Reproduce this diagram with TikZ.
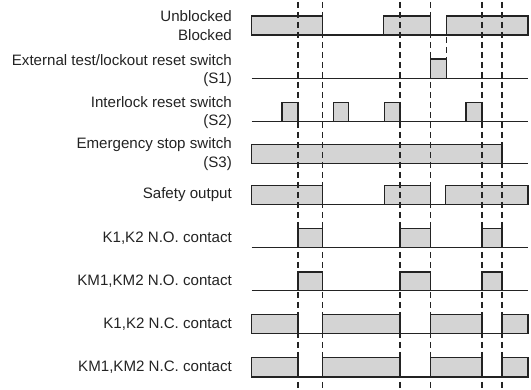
\documentclass[tikz,border=0pt]{standalone}
\usepackage{fontspec}
\setmainfont{Liberation Sans}
\usepackage{tikz}
\usepackage{xcolor}
\usetikzlibrary{positioning}

\definecolor{boxgray}{RGB}{212,212,212}
\definecolor{inkgray}{RGB}{35,35,35}

\tikzset{
    wave/.style={draw=inkgray, line width=1.3pt},
    hilo/.style={wave, fill=boxgray},
    tmark/.style={draw=inkgray, line width=1.1pt, dash pattern=on 6pt off 4pt},
    sig/.style={anchor=east, inner sep=0pt, text=inkgray, font=\fontsize{15.1}{16}\selectfont}
}

\begin{document}
\begin{tikzpicture}[x=1pt, y=-1pt]
    \useasboundingbox (0,0) rectangle (531,390);

    % labels
    \node[sig] (unbl) at (232, 16) {Unblocked};
    \node[sig] (bl) at (232, 35) {Blocked};
    \node[sig] (s1a) at (232, 60) {External test/lockout reset switch};
    \node[sig] (s1b) at (232, 79.5) {(S1)};
    \node[sig] (s2a) at (232, 102.5) {Interlock reset switch};
    \node[sig] (s2b) at (232, 122) {(S2)};
    \node[sig] (s3a) at (232, 145) {Emergency stop switch};
    \node[sig] (s3b) at (232, 164) {(S3)};
    \node[sig] (safe) at (232, 195) {Safety output};
    \node[sig] (kno) at (232, 238) {K1,K2 N.O. contact};
    \node[sig] (kmno) at (232, 281) {KM1,KM2 N.O. contact};
    \node[sig] (knc) at (232, 324) {K1,K2 N.C. contact};
    \node[sig] (kmnc) at (232, 367) {KM1,KM2 N.C. contact};

    % unblocked / blocked
    \draw[wave] (251.7, 35) -- (528, 35);
    \draw[hilo] (251.7, 16) rectangle (322.7, 35);
    \draw[hilo] (383.3, 16) rectangle (430.3, 35);
    \draw[hilo] (446.3, 16) rectangle (528, 35);

    % S1
    \draw[wave] (251.7, 78.7) -- (528, 78.7);
    \draw[hilo] (430.3, 59) rectangle (446.3, 78.7);

    % S2
    \draw[wave] (251.7, 121.7) -- (528, 121.7);
    \draw[hilo] (282, 102.3) rectangle (298, 121.7);
    \draw[hilo] (333.3, 102.3) rectangle (348.7, 121.7);
    \draw[hilo] (384.3, 102.3) rectangle (400, 121.7);
    \draw[hilo] (466, 102.3) rectangle (482, 121.7);

    % S3
    \draw[wave] (251.7, 163.3) -- (528, 163.3);
    \draw[hilo] (251.7, 144.3) rectangle (502, 163.3);

    % safety output
    \draw[wave] (251.7, 204.3) -- (528, 204.3);
    \draw[hilo] (251.7, 185.7) rectangle (322.7, 204.3);
    \draw[hilo] (384.3, 185.7) rectangle (430.3, 204.3);
    \draw[hilo] (445.7, 185.7) rectangle (528, 204.3);

    % N.O. contacts
    \draw[wave] (251.7, 247.7) -- (528, 247.7);
    \draw[hilo] (298, 228.7) rectangle (322.7, 247.7);
    \draw[hilo] (400, 228.7) rectangle (430.3, 247.7);
    \draw[hilo] (482, 228.7) rectangle (502, 247.7);

    \draw[wave] (251.7, 290.7) -- (528, 290.7);
    \draw[hilo] (298, 272) rectangle (322.7, 290.7);
    \draw[hilo] (400, 272) rectangle (430.3, 290.7);
    \draw[hilo] (482, 272) rectangle (502, 290.7);

    % N.C. contacts
    \draw[wave] (251.7, 333.7) -- (528, 333.7);
    \draw[hilo] (251.7, 314.3) rectangle (298, 333.7);
    \draw[hilo] (322.7, 314.3) rectangle (400, 333.7);
    \draw[hilo] (430.3, 314.3) rectangle (482, 333.7);
    \draw[hilo] (502, 314.3) rectangle (528, 333.7);

    \draw[wave] (251.7, 377) -- (528, 377);
    \draw[hilo] (251.7, 357.7) rectangle (298, 377);
    \draw[hilo] (322.7, 357.7) rectangle (400, 377);
    \draw[hilo] (430.3, 357.7) rectangle (482, 377);
    \draw[hilo] (502, 357.7) rectangle (528, 377);

    % time marks
    \draw[tmark] (298, 2) -- (298, 390);
    \draw[tmark] (322.7, 2) -- (322.7, 390);
    \draw[tmark] (400, 2) -- (400, 390);
    \draw[tmark] (430.3, 2) -- (430.3, 390);
    \draw[tmark] (482, 2) -- (482, 390);
    \draw[tmark] (502, 2) -- (502, 390);
    \draw[tmark] (446.3, 37) -- (446.3, 59);
\end{tikzpicture}
\end{document}
